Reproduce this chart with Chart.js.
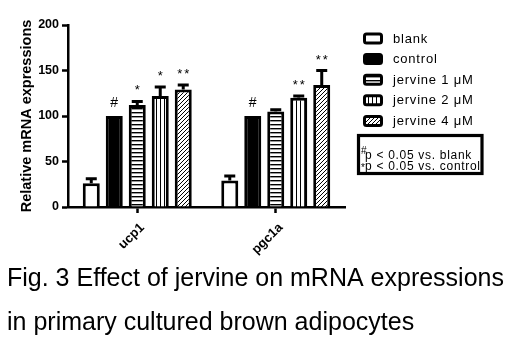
<!DOCTYPE html>
<html><head><meta charset="utf-8">
<script src="https://cdn.jsdelivr.net/npm/chart.js@4/dist/chart.umd.min.js"></script>
<style>html,body{margin:0;padding:0;background:#fff}#wrap{width:517px;height:351px}</style>
</head><body><div id="wrap"><canvas id="c" width="517" height="351"></canvas></div>
<script>
const categories = ['ucp1', 'pgc1a'];
const seriesNames = ['blank', 'control', 'jervine 1 μM', 'jervine 2 μM', 'jervine 4 μM'];
const blankValues = [26, 29];
const controlValues = [100, 100];
const jervine1Values = [112, 105];
const jervine2Values = [122, 120];
const jervine4Values = [129, 134];
const blankErrors = [5, 5];
const controlErrors = [0, 0];
const jervine1Errors = [4, 2];
const jervine2Errors = [10, 2];
const jervine4Errors = [5, 16];
const blankMarks = ['', ''];
const controlMarks = ['#', '#'];
const jervine1Marks = ['*', ''];
const jervine2Marks = ['*', '**'];
const jervine4Marks = ['**', '**'];
const yTicks = [0, 50, 100, 150, 200];
const yTitle = 'Relative mRNA expressions';
const captionLines = ['Fig. 3 Effect of jervine on mRNA expressions', 'in primary cultured brown adipocytes'];
const noteMarks = ['#', '*'];
const noteTexts = ['p < 0.05 vs. blank', 'p < 0.05 vs. control'];

const FONT = 'Arial, "Liberation Sans", sans-serif';

function makePattern(type) {
  const c = document.createElement('canvas');
  c.width = 4; c.height = 4;
  const g = c.getContext('2d');
  g.fillStyle = '#fff'; g.fillRect(0, 0, 4, 4);
  g.fillStyle = '#000';
  if (type === 'h') { g.fillRect(0, 0, 4, 1); g.fillStyle = '#999'; g.fillRect(0, 1, 4, 1); }
  else if (type === 'v') { g.fillRect(0, 0, 1, 4); }
  else if (type === 'd') { g.fillRect(3, 0, 1, 1); g.fillRect(2, 1, 1, 1); g.fillRect(1, 2, 1, 1); g.fillRect(0, 3, 1, 1); }
  return g.createPattern(c, 'repeat');
}
const fills = ['#ffffff', '#000000', makePattern('h'), makePattern('v'), makePattern('d')];
const valueSets = [blankValues, controlValues, jervine1Values, jervine2Values, jervine4Values];
const errorSets = [blankErrors, controlErrors, jervine1Errors, jervine2Errors, jervine4Errors];
const markSets = [blankMarks, controlMarks, jervine1Marks, jervine2Marks, jervine4Marks];

const datasets = seriesNames.map((name, i) => ({
  label: name,
  data: valueSets[i],
  errors: errorSets[i],
  marks: markSets[i],
  backgroundColor: fills[i],
  borderColor: '#000',
  borderWidth: 3,
  borderSkipped: 'start',
  barPercentage: 0.74,
  categoryPercentage: 0.83
}));

const errorBarPlugin = {
  id: 'errorBars',
  afterDatasetsDraw(chart) {
    const ctx = chart.ctx;
    const y = chart.scales.y;
    ctx.save();
    ctx.strokeStyle = '#000';
    ctx.lineWidth = 3;
    chart.data.datasets.forEach((ds, i) => {
      const meta = chart.getDatasetMeta(i);
      meta.data.forEach((el, j) => {
        const top = y.getPixelForValue(ds.data[j] + ds.errors[j]);
        if (ds.errors[j] > 0) {
          ctx.beginPath();
          ctx.moveTo(el.x, el.y);
          ctx.lineTo(el.x, top);
          ctx.moveTo(el.x - 5.5, top);
          ctx.lineTo(el.x + 5.5, top);
          ctx.stroke();
        }
        const m = ds.marks[j];
        if (m) {
          ctx.fillStyle = '#000';
          ctx.font = (m === '#' ? '14px ' : '13px ') + FONT;
          ctx.textAlign = 'center';
          ctx.textBaseline = 'alphabetic';
          ctx.letterSpacing = m.length > 1 ? '2px' : '0px';
          ctx.fillText(m, el.x + (m.length > 1 ? 1 : 0), top - (m === '#' ? 9 : 7));
        }
      });
    });
    ctx.restore();
  }
};

const legendPlugin = {
  id: 'sideLegend',
  afterDraw(chart) {
    const ctx = chart.ctx;
    ctx.save();
    const bx = 363, tx = 393;
    chart.data.datasets.forEach((ds, i) => {
      const cy = 38.5 + i * 20.6;
      ctx.beginPath();
      ctx.roundRect(bx + 1.5, cy - 4.5, 17, 9, 2);
      ctx.fillStyle = ds.backgroundColor;
      ctx.fill();
      ctx.lineWidth = 3;
      ctx.strokeStyle = '#000';
      ctx.stroke();
      ctx.fillStyle = '#000';
      ctx.font = '13px ' + FONT;
      ctx.letterSpacing = '0.8px';
      ctx.textAlign = 'left';
      ctx.textBaseline = 'middle';
      ctx.fillText(ds.label, tx, cy + 0.5);
    });
    // note box
    ctx.letterSpacing = '0px';
    ctx.lineWidth = 3.2;
    ctx.strokeRect(358.5, 135.5, 123.5, 38);
    ctx.textBaseline = 'alphabetic';
    const baselines = [158.7, 169.8];
    const markBaselines = [153.5, 170.5];
    noteTexts.forEach((t, i) => {
      ctx.font = '10px ' + FONT;
      ctx.letterSpacing = '0px';
      ctx.fillText(noteMarks[i], 361, markBaselines[i]);
      ctx.font = '12px ' + FONT;
      ctx.letterSpacing = '0.7px';
      ctx.fillText(t, 365, baselines[i]);
    });
    ctx.letterSpacing = '0px';
    // caption
    ctx.font = '25px ' + FONT;
    ctx.fillStyle = '#000';
    ctx.fillText(captionLines[0], 7, 286);
    ctx.fillText(captionLines[1], 7, 330);
    ctx.restore();
  }
};

new Chart(document.getElementById('c'), {
  type: 'bar',
  data: { labels: categories, datasets },
  options: {
    responsive: false,
    animation: false,
    devicePixelRatio: 1,
    layout: { padding: { top: 25, right: 172, bottom: 94, left: 0 } },
    plugins: { legend: { display: false }, tooltip: { enabled: false } },
    scales: {
      x: {
        grid: { display: true, offset: false, drawOnChartArea: false, drawTicks: true, tickLength: 6, tickWidth: 2.5, color: '#000' },
        border: { display: true, color: '#000', width: 2.5 },
        ticks: { color: '#000', font: { family: FONT, size: 13, weight: 'bold' }, minRotation: 45, maxRotation: 45, padding: 7, labelOffset: 5 },
        afterFit(s) { s.height = 50; }
      },
      y: {
        min: 0, max: 200,
        afterBuildTicks(s) { s.ticks = yTicks.map(v => ({ value: v })); },
        grid: { display: true, drawOnChartArea: false, drawTicks: true, tickLength: 6, tickWidth: 2.5, color: '#000' },
        border: { display: true, color: '#000', width: 2.5 },
        ticks: { color: '#000', font: { family: FONT, size: 12.5, weight: 'bold' }, padding: 3 },
        title: { display: true, text: yTitle, color: '#000', font: { family: FONT, size: 14.5, weight: 'bold' }, padding: { top: 18, bottom: 0 } },
        afterFit(s) { s.width = 68; }
      }
    }
  },
  plugins: [errorBarPlugin, legendPlugin]
});
</script>
</body></html>
